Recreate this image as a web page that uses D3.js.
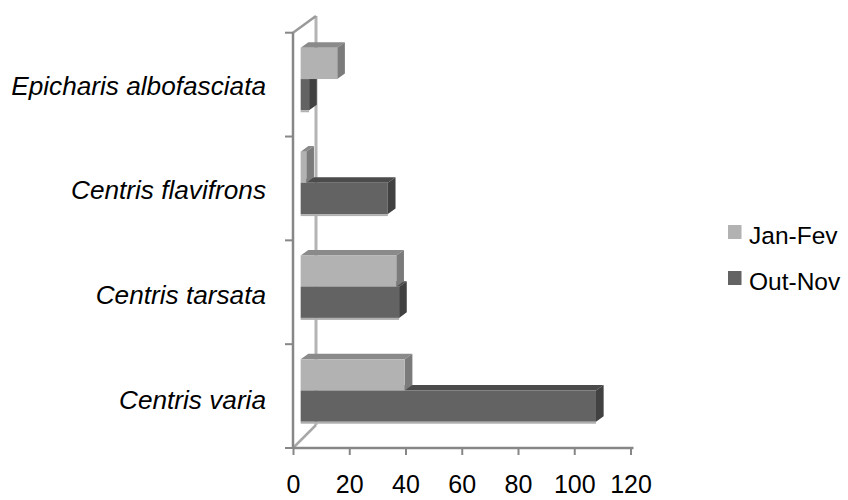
<!DOCTYPE html>
<html>
<head>
<meta charset="utf-8">
<script src="https://cdn.jsdelivr.net/npm/d3@7"></script>
<style>
  html, body { margin: 0; padding: 0; background: #fff; }
  svg { display: block; font-family: "Liberation Sans", Arial, sans-serif; }
</style>
</head>
<body>
<svg id="chart" width="848" height="500"></svg>
<script>
// ---- data ----
const categories = ["Epicharis albofasciata", "Centris flavifrons", "Centris tarsata", "Centris varia"];
const seriesNames = ["Jan-Fev", "Out-Nov"];
const janFev = [13, 2, 34, 37];
const outNov = [3, 31, 35, 105];
const xTicks = [0, 20, 40, 60, 80, 100, 120];

// ---- styles ----
const colors = {
  "Jan-Fev": { front: "#b2b2b2", top: "#8a8a8a", side: "#7b7b7b" },
  "Out-Nov": { front: "#636363", top: "#4b4b4b", side: "#414141" }
};

const svg = d3.select("#chart");

// front plane geometry
const x = d3.scaleLinear().domain([0, 120]).range([293, 630.5]);
const y = d3.scaleBand().domain(categories).range([32.7, 448]).paddingInner(0).paddingOuter(0);
const sub = d3.scaleBand().domain(seriesNames).range([0, y.bandwidth()]).paddingInner(0).paddingOuter(0.663);

// depth vector of the 3D box
const D = { dx: 23, dy: -16.7 };
const backTop = 16, backBottom = 425;
const barOff = { dx: D.dx / 3, dy: D.dy / 3 };
const barDepth = { dx: D.dx / 3, dy: D.dy / 3 };

const axisColor = "#878787";
const wallColor = "#b4b4b4";

// back wall vertical line
svg.append("line")
  .attr("x1", x(0) + D.dx).attr("x2", x(0) + D.dx)
  .attr("y1", backTop).attr("y2", backBottom)
  .attr("stroke", wallColor).attr("stroke-width", 3);

// top diagonal (side wall top edge)
svg.append("line")
  .attr("x1", x(0)).attr("y1", y.range()[0])
  .attr("x2", x(0) + D.dx).attr("y2", backTop)
  .attr("stroke", "#9a9a9a").attr("stroke-width", 2.5);

// floor diagonal
svg.append("line")
  .attr("x1", x(0)).attr("y1", y.range()[1])
  .attr("x2", x(0) + D.dx).attr("y2", backBottom)
  .attr("stroke", "#a8a8a8").attr("stroke-width", 2.5);

// ---- bars ----
const rows = [];
categories.forEach((c, i) => {
  rows.push({ cat: c, series: "Out-Nov", value: outNov[i] });
  rows.push({ cat: c, series: "Jan-Fev", value: janFev[i] });
});

const g = svg.append("g");
rows.forEach(d => {
  const col = colors[d.series];
  const x0 = x(0) + barOff.dx;
  const x1 = x(d.value) + barOff.dx;
  const y0 = y(d.cat) + sub(d.series) + barOff.dy;
  const h = sub.bandwidth();
  const bg = g.append("g");
  // top face
  bg.append("path")
    .attr("d", `M${x0},${y0}L${x1},${y0}L${x1 + barDepth.dx},${y0 + barDepth.dy}L${x0 + barDepth.dx},${y0 + barDepth.dy}Z`)
    .attr("fill", col.top);
  // side face
  bg.append("path")
    .attr("d", `M${x1},${y0}L${x1 + barDepth.dx},${y0 + barDepth.dy}L${x1 + barDepth.dx},${y0 + h + barDepth.dy}L${x1},${y0 + h}Z`)
    .attr("fill", col.side);
  // front face
  bg.append("rect")
    .attr("x", x0).attr("y", y0)
    .attr("width", Math.max(0, x1 - x0)).attr("height", h)
    .attr("fill", col.front);
  if (d.series === "Out-Nov") {
    bg.append("rect")
      .attr("x", x0).attr("y", y0 + h)
      .attr("width", Math.max(0, x1 - x0)).attr("height", 2)
      .attr("fill", "#b0b0b0");
  }
});

// ---- left (category) axis ----
svg.append("line")
  .attr("x1", x(0)).attr("x2", x(0))
  .attr("y1", y.range()[0]).attr("y2", y.range()[1] + 1)
  .attr("stroke", axisColor).attr("stroke-width", 2.5);
const catBounds = categories.map(c => y(c)).concat([y.range()[1]]);
svg.append("g").selectAll("line").data(catBounds).join("line")
  .attr("x1", x(0) - 8).attr("x2", x(0))
  .attr("y1", d => d).attr("y2", d => d)
  .attr("stroke", axisColor).attr("stroke-width", 2);

svg.append("g").selectAll("text").data(categories).join("text")
  .attr("x", 266)
  .attr("y", (d, i) => y(d) + y.bandwidth() / 2 + 10 + i * 1)
  .attr("text-anchor", "end")
  .attr("font-style", "italic")
  .attr("font-size", 26.2)
  .attr("fill", "#000")
  .text(d => d);

// ---- bottom (value) axis ----
const xAxis = svg.append("g").attr("transform", `translate(0,${y.range()[1]})`)
  .call(d3.axisBottom(x).tickValues(xTicks).tickSize(7).tickSizeOuter(0).tickPadding(20).tickFormat(d3.format("d")));
xAxis.select(".domain").attr("stroke", axisColor).attr("stroke-width", 2.5)
  .attr("d", `M${x(0)},0H${x(120) + 3}`);
xAxis.selectAll(".tick line").attr("stroke", axisColor).attr("stroke-width", 2);
xAxis.selectAll(".tick text")
  .attr("font-family", "Liberation Sans, Arial, sans-serif")
  .attr("font-size", 25).attr("fill", "#000");

// ---- legend ----
const legend = svg.append("g");
seriesNames.forEach((s, i) => {
  const ly = 225 + i * 46;
  legend.append("rect").attr("x", 728).attr("y", ly).attr("width", 13.5).attr("height", 14)
    .attr("fill", colors[s].front);
  legend.append("text").attr("x", 749).attr("y", ly + 19)
    .attr("font-size", 24.5).attr("fill", "#000").text(s);
});
</script>
</body>
</html>
